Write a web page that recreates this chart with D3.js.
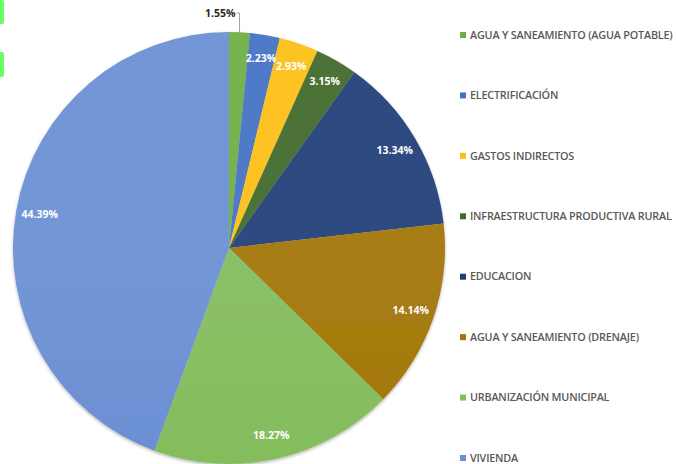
<!DOCTYPE html>
<html>
<head>
<meta charset="utf-8">
<script src="https://cdn.jsdelivr.net/npm/d3@7/dist/d3.min.js"></script>
<style>
  html, body { margin: 0; padding: 0; background: #fff; }
  svg { display: block; }
</style>
</head>
<body>
<svg id="chart" width="677" height="464"></svg>
<script>
// Budget share by project category (percent)
const categories = [
  "AGUA Y SANEAMIENTO (AGUA POTABLE)",
  "ELECTRIFICACIÓN",
  "GASTOS INDIRECTOS",
  "INFRAESTRUCTURA PRODUCTIVA RURAL",
  "EDUCACION",
  "AGUA Y SANEAMIENTO (DRENAJE)",
  "URBANIZACIÓN MUNICIPAL",
  "VIVIENDA"
];
const shares = [1.55, 2.23, 2.93, 3.15, 13.34, 14.14, 18.27, 44.39];
const colors = ["#6eae45", "#4472c4", "#fcbf16", "#42692b", "#213f77", "#a27506", "#84bd5c", "#6a8fd3"];

const svg = d3.select("#chart");
const cx = 229, cy = 248, R = 216;

const defs = svg.append("defs");
// soft top-to-bottom shading over the pie
const shade = defs.append("linearGradient")
  .attr("id", "shade").attr("gradientUnits", "userSpaceOnUse")
  .attr("x1", 0).attr("y1", cy - R).attr("x2", 0).attr("y2", cy + R);
shade.append("stop").attr("offset", "0%").attr("stop-color", "#fff").attr("stop-opacity", 0.06);
shade.append("stop").attr("offset", "45%").attr("stop-color", "#fff").attr("stop-opacity", 0);
shade.append("stop").attr("offset", "100%").attr("stop-color", "#000").attr("stop-opacity", 0.06);

const shadow = defs.append("filter").attr("id", "shadow")
  .attr("x", "-10%").attr("y", "-10%").attr("width", "120%").attr("height", "120%");
shadow.append("feDropShadow").attr("dx", 0).attr("dy", 1.5).attr("stdDeviation", 1.5)
  .attr("flood-color", "#000").attr("flood-opacity", 0.3);

const data = categories.map((c, i) => ({ name: c, value: shares[i], color: colors[i] }));
const pie = d3.pie().value(d => d.value).sort(null);
const arcs = pie(data);
const arc = d3.arc().innerRadius(0).outerRadius(R);
const labelArc = d3.arc().innerRadius(R * 0.89).outerRadius(R * 0.89);

const g = svg.append("g").attr("transform", `translate(${cx},${cy})`);
const slices = g.append("g").attr("filter", "url(#shadow)");
slices.selectAll("path.slice")
  .data(arcs)
  .join("path")
  .attr("class", "slice")
  .attr("d", arc)
  .attr("fill", d => d.data.color);
slices.append("circle")
  .attr("r", R)
  .attr("fill", "url(#shade)");

// value labels; the smallest slice gets an outside label with a leader line
const fmt = v => v.toFixed(2) + "%";
const inside = arcs.filter(d => d.data.value > 2);
g.selectAll("text.val")
  .data(inside)
  .join("text")
  .attr("class", "val")
  .attr("transform", d => `translate(${labelArc.centroid(d)})`)
  .attr("text-anchor", "middle")
  .attr("dy", "0.35em")
  .attr("font-family", "Open Sans, sans-serif")
  .attr("font-weight", 700)
  .attr("font-size", 10.5)
  .attr("fill", "#fff")
  .text(d => fmt(d.data.value));

const small = arcs.filter(d => d.data.value <= 2);
small.forEach(d => {
  const a = (d.startAngle + d.endAngle) / 2;
  const ex = R * Math.sin(a), ey = -R * Math.cos(a);
  const ly = -R - 19;
  g.append("polyline")
    .attr("points", `${ex},${ey} ${ex},${ly} ${ex - 3},${ly}`)
    .attr("fill", "none")
    .attr("stroke", "#a6a6a6")
    .attr("stroke-width", 1);
  g.append("text")
    .attr("x", ex - 4).attr("y", ly)
    .attr("dy", "0.35em")
    .attr("text-anchor", "end")
    .attr("font-family", "Open Sans, sans-serif")
    .attr("font-weight", 700)
    .attr("font-size", 10.5)
    .attr("fill", "#262626")
    .text(fmt(d.data.value));
});

// legend
const legendY = d3.scalePoint().domain(categories).range([35, 458]);
const legend = svg.append("g").selectAll("g")
  .data(data)
  .join("g")
  .attr("transform", d => `translate(460,${legendY(d.name)})`);
legend.append("rect")
  .attr("x", 0).attr("y", -3).attr("width", 6).attr("height", 6)
  .attr("fill", d => d.color);
legend.append("text")
  .attr("x", 10).attr("dy", "0.35em")
  .attr("font-family", "Open Sans, sans-serif")
  .attr("font-weight", 600)
  .attr("font-size", 10.8)
  .attr("letter-spacing", -0.2)
  .attr("fill", "#595959")
  .text(d => d.name);

// bright green marks along the left edge
svg.append("rect").attr("x", -3).attr("y", 0).attr("width", 7).attr("height", 24).attr("rx", 2).attr("fill", "#66ff66");
svg.append("rect").attr("x", -3).attr("y", 52).attr("width", 7).attr("height", 25).attr("rx", 2).attr("fill", "#66ff66");
</script>
</body>
</html>
